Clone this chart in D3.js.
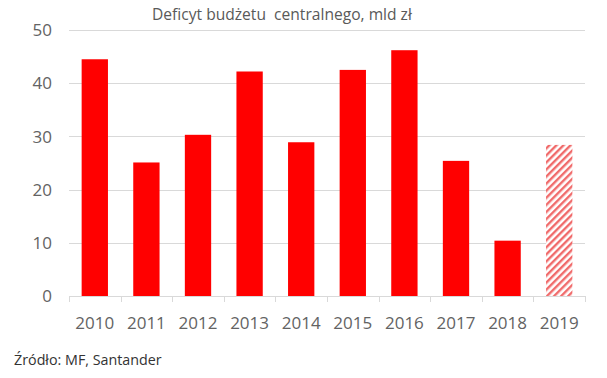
<!DOCTYPE html>
<html><head><meta charset="utf-8">
<script src="https://cdn.jsdelivr.net/npm/d3@7/dist/d3.min.js"></script>
<style>body{margin:0;background:#fff}svg{display:block}</style>
</head><body>
<svg id="c" width="607" height="378"></svg>
<script>
const years = ["2010","2011","2012","2013","2014","2015","2016","2017","2018","2019"];
const deficit = [44.5, 25.1, 30.3, 42.2, 28.9, 42.5, 46.2, 25.4, 10.4, 28.4];
const forecast = [false,false,false,false,false,false,false,false,false,true];
const yTicks = [0,10,20,30,40,50];
const title = "Deficyt budżetu  centralnego, mld zł";
const source = "Źródło: MF, Santander";

const svg = d3.select("#c");
const font = "'Open Sans', sans-serif";
const m = {l:69, r:22};
const W = 607;
const x = d3.scaleBand().domain(years).range([m.l, W - m.r]).paddingInner(0.49).paddingOuter(0.245);
const y = d3.scaleLinear().domain([0,50]).range([296, 30]);

const defs = svg.append("defs");
const pat = defs.append("pattern").attr("id","hatch").attr("patternUnits","userSpaceOnUse")
  .attr("width",5).attr("height",5).attr("patternTransform","rotate(45)");
pat.append("rect").attr("width",5).attr("height",5).attr("fill","#fff");
pat.append("rect").attr("width",2.4).attr("height",5).attr("fill","#f06a6a");

// gridlines
svg.append("g").selectAll("line").data(yTicks.filter(d=>d>0)).join("line")
  .attr("x1", m.l).attr("x2", W - m.r)
  .attr("y1", d=>Math.round(y(d))+0.5).attr("y2", d=>Math.round(y(d))+0.5)
  .attr("stroke","#d9d9d9").attr("stroke-width",1);

// y labels
svg.append("g").selectAll("text").data(yTicks).join("text")
  .attr("x", 52).attr("y", d=>y(d)).attr("dy","0.36em")
  .attr("text-anchor","end").attr("font-family",font).attr("font-size",17)
  .attr("fill","#636363").text(d=>d);

// bars
svg.append("g").selectAll("rect").data(years).join("rect")
  .attr("x", d=>x(d)).attr("width", x.bandwidth())
  .attr("y", (d,i)=>y(deficit[i])).attr("height", (d,i)=>y(0)-y(deficit[i]))
  .attr("fill", (d,i)=>forecast[i] ? "url(#hatch)" : "#ff0000");

// x axis line and ticks
svg.append("line").attr("x1", m.l).attr("x2", W - m.r).attr("y1", y(0)+0.5).attr("y2", y(0)+0.5)
  .attr("stroke","#d9d9d9");
const tickPos = years.map(d => x(d) - x.step()*x.paddingInner()/2);
tickPos.push(W - m.r);
svg.append("g").selectAll("line").data(tickPos).join("line")
  .attr("x1", d=>Math.round(d)+0.5).attr("x2", d=>Math.round(d)+0.5).attr("y1", y(0)).attr("y2", y(0)+6)
  .attr("stroke","#d9d9d9");

// x labels
svg.append("g").selectAll("text").data(years).join("text")
  .attr("x", d=>x(d)+x.bandwidth()/2).attr("y", 329)
  .attr("text-anchor","middle").attr("font-family",font).attr("font-size",17)
  .attr("fill","#636363").text(d=>d);

svg.append("text").attr("x", 152).attr("y", 20)
  .style("white-space","pre")
  .attr("font-family",font).attr("font-size",15.6).attr("fill","#595959").text(title);

svg.append("text").attr("x", 14).attr("y", 365)
  .attr("font-family",font).attr("font-size",14.3).attr("fill","#333").text(source);
</script>
</body></html>
